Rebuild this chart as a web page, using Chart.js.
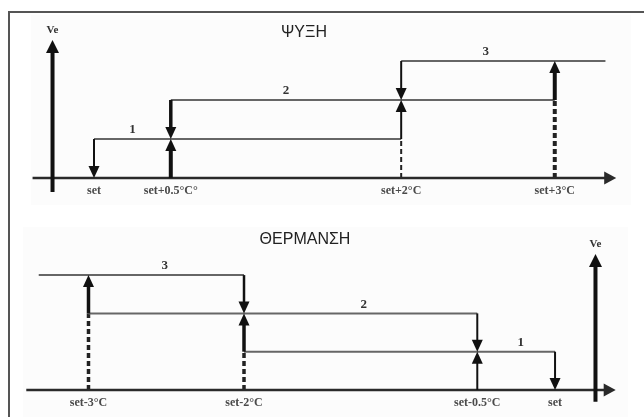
<!DOCTYPE html>
<html>
<head>
<meta charset="utf-8">
<script src="https://cdn.jsdelivr.net/npm/chart.js@4.4.1/dist/chart.umd.min.js"></script>
<style>
  html, body { margin: 0; padding: 0; background: #fff; }
  body { width: 644px; height: 417px; position: relative; overflow: hidden; }
  .panel { position: absolute; left: 0; width: 644px; }
  #coolBox { top: 0; height: 207px; }
  #heatBox { top: 207px; height: 210px; }
  .shade { position: absolute; background: #fcfcfc; }
  .frame { position: absolute; left: 8px; top: 11px; width: 700px; height: 500px;
           border-top: 2px solid #555; border-left: 2px solid #555; pointer-events: none; }
</style>
</head>
<body>
<div class="shade" style="left:31px;top:15px;width:600px;height:190px"></div>
<div class="shade" style="left:23px;top:227px;width:605px;height:190px"></div>
<div class="panel" id="coolBox"><canvas id="coolChart"></canvas></div>
<div class="panel" id="heatBox"><canvas id="heatChart"></canvas></div>
<div class="frame"></div>
<script>
// x = degrees from set point, y = stage (Ve step)

// ΨΥΞΗ (cooling)
const coolTickX = [0, 0.5, 2, 3];
const coolTickLabels = ['set', 'set+0.5°C°', 'set+2°C', 'set+3°C'];
const coolStages = [1, 2, 3];
const coolLevelStart = [0, 0.5, 2];
const coolLevelEnd = [2, 3, 3.33];
const coolUpX = [0.5, 2, 3];      // stage switches on
const coolDownX = [0, 0.5, 2];    // stage switches off
const coolLabelX = [0.25, 1.25, 2.55];
const coolAxisX = [-0.4, 3.4];
const coolVeX = -0.27;
const coolVeY = [-0.36, 3.54];

// ΘΕΡΜΑΝΣΗ (heating)
const heatTickX = [-3, -2, -0.5, 0];
const heatTickLabels = ['set-3°C', 'set-2°C', 'set-0.5°C', 'set'];
const heatStages = [1, 2, 3];
const heatLevelStart = [-2, -3, -3.32];
const heatLevelEnd = [0, -0.5, -2];
const heatUpX = [-0.5, -2, -3];
const heatDownX = [0, -0.5, -2];
const heatLabelX = [-0.22, -1.23, -2.51];
const heatAxisX = [-3.4, 0.39];
const heatVeX = 0.26;
const heatVeY = [-0.31, 3.55];

// shafts + heads for datasets flagged with "arrow"
const arrowPlugin = {
  id: 'arrowHeads',
  afterDatasetsDraw(chart) {
    const ctx = chart.ctx;
    chart.data.datasets.forEach((ds, i) => {
      if (!ds.arrow) return;
      const pts = chart.getDatasetMeta(i).data;
      const a = pts[0], b = pts[pts.length - 1];
      const ang = Math.atan2(b.y - a.y, b.x - a.x);
      const len = ds.arrow.len, half = ds.arrow.width / 2;
      ctx.save();
      ctx.strokeStyle = ds.borderColor;
      ctx.fillStyle = ds.borderColor;
      ctx.lineWidth = ds.borderWidth;
      ctx.beginPath();
      ctx.moveTo(a.x, a.y);
      ctx.lineTo(b.x - Math.cos(ang) * len * 0.7, b.y - Math.sin(ang) * len * 0.7);
      ctx.stroke();
      ctx.translate(b.x, b.y);
      ctx.rotate(ang);
      ctx.beginPath();
      ctx.moveTo(0, 0);
      ctx.lineTo(-len, -half);
      ctx.lineTo(-len, half);
      ctx.closePath();
      ctx.fill();
      ctx.restore();
    });
  }
};

// title, tick labels, stage numbers, Ve
const textPlugin = {
  id: 'diagramText',
  afterDraw(chart, args, o) {
    const { ctx, scales: { x, y } } = chart;
    ctx.save();
    ctx.textAlign = 'center';
    ctx.textBaseline = 'middle';

    ctx.font = '16px "Liberation Sans", Arial, sans-serif';
    ctx.fillStyle = '#222';
    ctx.fillText(o.title, o.titleX, o.titleY);

    ctx.font = 'bold 12px "Liberation Serif", serif';
    ctx.fillStyle = '#4a4a4a';
    o.ticks.forEach((t, i) => {
      ctx.fillText(o.tickLabels[i], x.getPixelForValue(t), y.getPixelForValue(0) + 13);
    });

    ctx.font = 'bold 13px "Liberation Serif", serif';
    ctx.fillStyle = '#333';
    o.stages.forEach((s, i) => {
      ctx.fillText(String(s), x.getPixelForValue(o.labelX[i]), y.getPixelForValue(s) - 9);
    });

    ctx.font = 'bold 11px "Liberation Serif", serif';
    ctx.fillText('Ve', x.getPixelForValue(o.veX), y.getPixelForValue(o.veTop) - 10);
    ctx.restore();
  }
};

function buildDatasets(p) {
  const ds = [];
  const line = (pts, w, color, dash) => ({
    data: pts, borderColor: color, borderWidth: w, borderDash: dash || [],
    pointRadius: 0, fill: false
  });
  const arrow = (pts, w, color, len, width) => ({
    data: pts, borderColor: color, borderWidth: w, showLine: false,
    pointRadius: 0, arrow: { len, width }
  });

  ds.push(arrow([{ x: p.axisX[0], y: 0 }, { x: p.axisX[1], y: 0 }], 2.5, '#2a2a2a', 12, 13));
  ds.push(arrow([{ x: p.veX, y: p.veY[0] }, { x: p.veX, y: p.veY[1] }], 4, '#111', 13, 13));

  p.stages.forEach((s, i) => {
    ds.push(line([{ x: p.levelStart[i], y: s }, { x: p.levelEnd[i], y: s }], 2, '#666'));
    ds.push(arrow([{ x: p.downX[i], y: s }, { x: p.downX[i], y: s - 1 }], p.downW[i], '#111', 12, 11));
    ds.push(arrow([{ x: p.upX[i], y: s - 1 }, { x: p.upX[i], y: s }], p.upW[i], '#111', 12, 11));
    if (s > 1) {
      ds.push(line([{ x: p.upX[i], y: 0 }, { x: p.upX[i], y: s - 1 }], p.upW[i], '#222', [5, 3]));
    }
  });
  return ds;
}

function makeChart(id, p) {
  return new Chart(document.getElementById(id), {
    type: 'line',
    data: { datasets: buildDatasets(p) },
    options: {
      responsive: true,
      maintainAspectRatio: false,
      animation: false,
      layout: { padding: 0 },
      plugins: {
        legend: { display: false },
        tooltip: { enabled: false },
        diagramText: {
          title: p.title, titleX: p.titleX, titleY: p.titleY,
          ticks: p.ticks, tickLabels: p.tickLabels,
          stages: p.stages, labelX: p.labelX,
          veX: p.veX, veTop: p.veY[1]
        }
      },
      scales: {
        x: { type: 'linear', display: false, min: p.xRange[0], max: p.xRange[1] },
        y: { type: 'linear', display: false, min: p.yRange[0], max: p.yRange[1] }
      }
    },
    plugins: [arrowPlugin, textPlugin]
  });
}

makeChart('coolChart', {
  title: 'ΨΥΞΗ', titleX: 304, titleY: 33,
  ticks: coolTickX, tickLabels: coolTickLabels,
  stages: coolStages, labelX: coolLabelX,
  levelStart: coolLevelStart, levelEnd: coolLevelEnd,
  upX: coolUpX, downX: coolDownX,
  upW: [4, 2, 4], downW: [2, 3.5, 2],
  axisX: coolAxisX, veX: coolVeX, veY: coolVeY,
  xRange: [-0.612, 3.581], yRange: [-0.744, 4.564]
});

makeChart('heatChart', {
  title: 'ΘΕΡΜΑΝΣΗ', titleX: 305, titleY: 33,
  ticks: heatTickX, tickLabels: heatTickLabels,
  stages: heatStages, labelX: heatLabelX,
  levelStart: heatLevelStart, levelEnd: heatLevelEnd,
  upX: heatUpX, downX: heatDownX,
  upW: [2, 3.5, 3.5], downW: [2, 2, 2.5],
  axisX: heatAxisX, veX: heatVeX, veY: heatVeY,
  xRange: [-3.569, 0.572], yRange: [-0.705, 4.778]
});
</script>
</body>
</html>
